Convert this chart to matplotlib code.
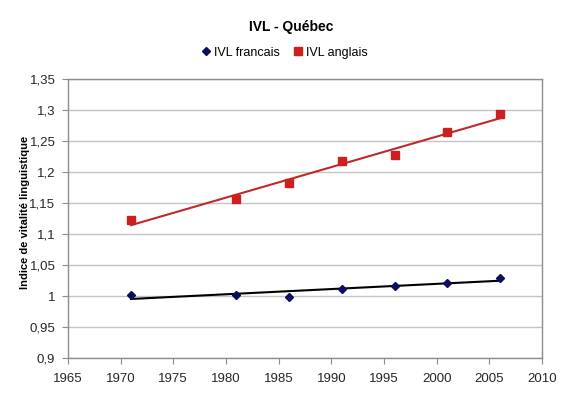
import numpy as np
import matplotlib
matplotlib.use("Agg")
import matplotlib.pyplot as plt
from matplotlib.ticker import FuncFormatter

plt.rcParams['font.family'] = ['Liberation Sans', 'DejaVu Sans']

#%% Data

years = [1971, 1981, 1986, 1991, 1996, 2001, 2006]
ivl_fr = [1.002, 1.002, 0.998, 1.012, 1.016, 1.021, 1.029]
ivl_en = [1.123, 1.156, 1.183, 1.218, 1.227, 1.265, 1.293]

x_ticks = [1965, 1970, 1975, 1980, 1985, 1990, 1995, 2000, 2005, 2010]
y_ticks = [0.9, 0.95, 1.0, 1.05, 1.1, 1.15, 1.2, 1.25, 1.3, 1.35]

#%% Figure

fig = plt.figure(figsize=(5.7, 3.98), dpi=100)
ax = fig.add_axes([0.119, 0.1005, 0.832, 0.701])

for v in y_ticks:
    ax.axhline(v, color="#c4c4c4", lw=1.0, zorder=0)

# linear trend lines (like excel)
xs = np.array([years[0], years[-1]])
p_fr = np.polyfit(years, ivl_fr, 1)
p_en = np.polyfit(years, ivl_en, 1)
ax.plot(xs, np.polyval(p_fr, xs), color="black", lw=1.5, zorder=2)
ax.plot(xs, np.polyval(p_en, xs), color="#c0282a", lw=1.5, zorder=2)

ax.plot(years, ivl_fr, "D", color="#0d0d5c", ms=4.5, ls="none", zorder=3, label="IVL francais")
ax.plot(years, ivl_en, "s", color="#cc1f1f", ms=5.5, ls="none", zorder=3, label="IVL anglais")

ax.set_xlim(1965, 2010)
ax.set_ylim(0.9, 1.35)
ax.set_xticks(x_ticks)
ax.set_yticks(y_ticks)
ax.yaxis.set_major_formatter(FuncFormatter(lambda v, pos: ("%g" % round(v, 2)).replace(".", ",")))
ax.tick_params(axis="both", labelsize=9.5, labelcolor="#262626", direction="out", length=4,
               width=0.8, color="#8c8c8c")
ax.tick_params(axis="x", pad=7)
ax.tick_params(axis="y", pad=5)

for s in ax.spines.values():
    s.set_color("#8c8c8c")
    s.set_linewidth(1.0)

ax.set_ylabel("Indice de vitalité linguistique", fontsize=8, fontweight="bold")
ax.yaxis.set_label_coords(-0.080, 0.523)

fig.text(0.51, 0.932, "IVL - Québec", ha="center", va="center", fontsize=10, fontweight="bold")
fig.legend(loc="center", bbox_to_anchor=(0.5, 0.868), ncol=2, frameon=False, fontsize=9,
           handlelength=0.6, handletextpad=0.3, columnspacing=1.2)

fig.savefig("out.png", dpi=100)
